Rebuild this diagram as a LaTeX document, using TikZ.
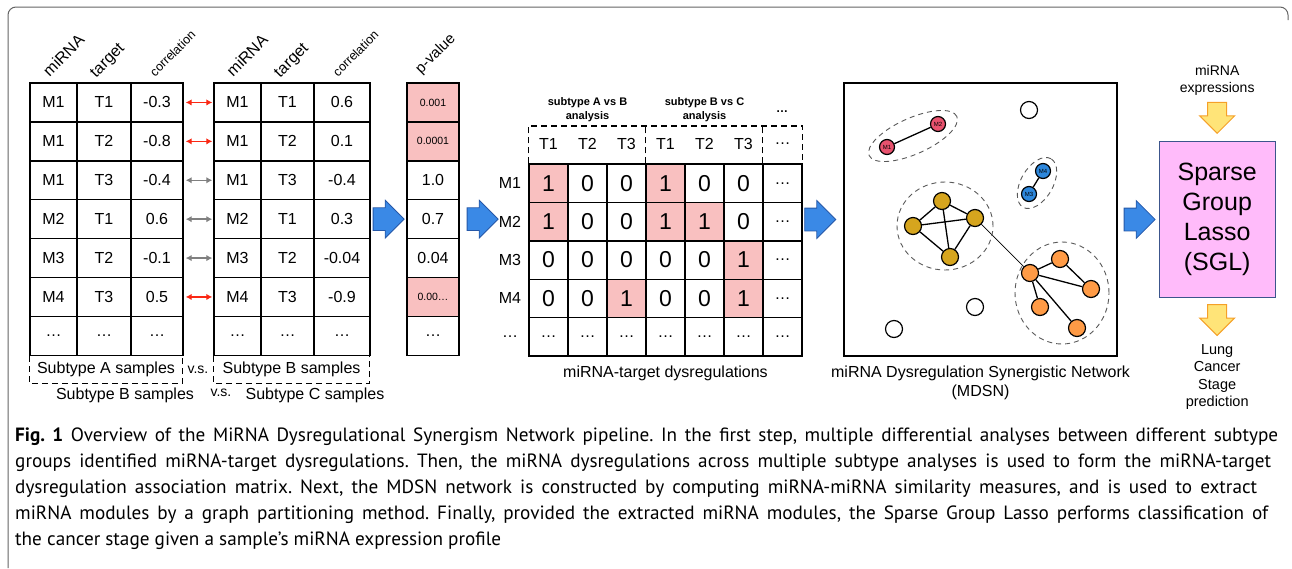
\documentclass[tikz,border=0pt]{standalone}
\usepackage{fontspec}
\setmainfont{Liberation Sans}
\newfontfamily\capfont{PT Sans}
\usepackage{tikz}
\usetikzlibrary{positioning,shapes,arrows,arrows.meta,calc}
\frenchspacing

\definecolor{pinkcell}{RGB}{249,192,192}
\definecolor{blockblue}{RGB}{58,137,230}
\definecolor{blockedge}{RGB}{38,88,168}
\definecolor{sglfill}{RGB}{255,187,250}
\definecolor{sgledge}{RGB}{60,85,140}
\definecolor{yelfill}{RGB}{255,228,120}
\definecolor{yeledge}{RGB}{245,160,40}
\definecolor{nodered}{RGB}{232,82,110}
\definecolor{nodeblue}{RGB}{45,135,220}
\definecolor{nodegold}{RGB}{214,165,30}
\definecolor{nodeorange}{RGB}{255,155,70}
\definecolor{arrred}{RGB}{250,40,20}
\definecolor{framegray}{RGB}{100,100,100}

\newcommand{\capline}[2]{\makebox[#1][s]{#2}}

\tikzstyle{cell} = [rectangle, draw, line width=1.4pt, minimum height=38.9pt, %
   inner sep=0pt, font=\fontsize{16}{18}\selectfont]
\tikzstyle{mcell} = [rectangle, draw, line width=1.4pt, minimum width=39pt, %
   minimum height=38.4pt, inner sep=0pt, font=\fontsize{23}{25}\selectfont]
\tikzstyle{v1} = [fill=pinkcell]
\tikzstyle{v0} = []
\tikzstyle{psmall} = [fill=pinkcell, font=\fontsize{10.5}{12}\selectfont]
\tikzstyle{hdr} = [rotate=45, anchor=base west, inner sep=0pt, font=\fontsize{16}{18}\selectfont]
\tikzstyle{lbl} = [font=\fontsize{16}{19}\selectfont, align=center, inner sep=0pt]
\tikzstyle{dashbox} = [draw, dash pattern=on 6pt off 4pt, line width=1.2pt]
\tikzstyle{pair} = [draw, line width=1.5pt, {Latex[length=6pt,width=6.5pt]}-{Latex[length=6pt,width=6.5pt]}, %
   shorten <=2pt, shorten >=1pt]
\tikzstyle{bluearr} = [single arrow, draw=blockedge, fill=blockblue, line width=0.8pt, %
   minimum height=31pt, inner xsep=0pt, inner ysep=11pt, single arrow head extend=7.5pt]
\tikzstyle{yelarr} = [single arrow, shape border rotate=270, draw=yeledge, fill=yelfill, %
   line width=1pt, minimum height=31pt, inner ysep=0pt, inner xsep=9pt, single arrow head extend=8pt]
\tikzstyle{mirna} = [circle, draw, line width=1.2pt, inner sep=0pt, minimum size=15pt, %
   font=\fontsize{6}{6}\selectfont]
\tikzstyle{gene} = [circle, draw, line width=1.2pt, inner sep=0pt, minimum size=17pt]
\tikzstyle{edge} = [draw, line width=1.3pt]
\tikzstyle{module} = [ellipse, draw=black!65, dash pattern=on 5pt off 4pt, line width=0.9pt, inner sep=0pt]

\begin{document}
\begin{tikzpicture}[x=1pt, y=-1pt]
   \useasboundingbox (0,0) rectangle (1292,568);
   \draw[framegray, line width=1pt, rounded corners=8pt] (8,568) -- (8,7) -- (1288,7) -- (1288,20);

   % Subtype tables %%%%%%%%%%%%%%%%%%%%%%%%%%%%%%%%%%%%%%%%%%%%%%%%%%%%%%
   \foreach \m/\t/\va/\vb [count=\r] in {M1/T1/-0.3/0.6, M1/T2/-0.8/0.1, M1/T3/-0.4/-0.4, %
         M2/T1/0.6/0.3, M3/T2/-0.1/-0.04, M4/T3/0.5/-0.9, \ldots/\ldots/\ldots/\ldots}{
      \node[cell, minimum width=47pt] (A-\r-1) at (53.5,{83+38.9*(\r-0.5)}) {\m};
      \node[cell, minimum width=54pt] (A-\r-2) at (104,{83+38.9*(\r-0.5)}) {\t};
      \node[cell, minimum width=52pt] (A-\r-3) at (157,{83+38.9*(\r-0.5)}) {\va};
      \node[cell, minimum width=47pt] (B-\r-1) at (237.5,{83+38.9*(\r-0.5)}) {\m};
      \node[cell, minimum width=53pt] (B-\r-2) at (287.5,{83+38.9*(\r-0.5)}) {\t};
      \node[cell, minimum width=56pt] (B-\r-3) at (342,{83+38.9*(\r-0.5)}) {\vb};
   }

   \node[hdr] (hA1) at ([xshift=-4pt,yshift=5pt]A-1-1.north) {miRNA};
   \node[hdr] (hA2) at ([xshift=-8pt,yshift=4pt]A-1-2.north) {target};
   \node[hdr, font=\fontsize{12.5}{14}\selectfont] (hA3) at ([xshift=-2pt,yshift=5pt]A-1-3.north) {correlation};
   \node[hdr] (hB1) at ([xshift=-4.5pt,yshift=5pt]B-1-1.north) {miRNA};
   \node[hdr] (hB2) at ([xshift=-7.5pt,yshift=4pt]B-1-2.north) {target};
   \node[hdr, font=\fontsize{12.5}{14}\selectfont] (hB3) at ([xshift=-4pt,yshift=5pt]B-1-3.north) {correlation};

   % pairs compared across subtypes
   \foreach \r/\col in {1/arrred, 2/arrred, 3/gray, 4/gray, 5/gray, 6/arrred}
      \path[pair, \col] (A-\r-3) -- (B-\r-1);

   \node[anchor=north west, minimum width=153pt, minimum height=27pt, inner sep=0pt, %
      font=\fontsize{16}{18}\selectfont] (subA) at (A-7-1.south west) {Subtype A samples};
   \node[anchor=north west, minimum width=156pt, minimum height=27pt, inner sep=0pt, %
      font=\fontsize{16}{18}\selectfont] (subB) at (B-7-1.south west) {Subtype B samples};
   \path[dashbox] (subA.north west) -- (subA.south west) -- (subA.south east) -- (subA.north east);
   \path[dashbox] (subB.north west) -- (subB.south west) -- (subB.south east) -- (subB.north east);
   \node[lbl, font=\fontsize{14}{16}\selectfont] (vs1) at ($(subA.east)!0.5!(subB.west)$) {v.s.};

   \node[lbl] (subB2) at (125,395) {Subtype B samples};
   \node[lbl, font=\fontsize{14}{16}\selectfont] (vs2) at (221,393) {v.s.};
   \node[lbl] (subC) at (315,395) {Subtype C samples};

   % p-value column %%%%%%%%%%%%%%%%%%%%%%%%%%%%%%%%%%%%%%%%%%%%%%%%%%%%%%
   \node[bluearr, right=2pt of B-4-3] (arr1) {};
   \foreach \p/\s [count=\r] in {0.001/psmall, 0.0001/psmall, 1.0/v0, 0.7/v0, 0.04/v0, %
         0.00\ldots/psmall, \ldots/v0}
      \node[cell, minimum width=52pt, \s] (P-\r) at (433,{83+38.9*(\r-0.5)}) {\p};
   \node[hdr, font=\fontsize{15}{17}\selectfont] (hP) at ([xshift=-12pt,yshift=8pt]P-1.north) {p-value};
   \node[bluearr, right=7pt of P-4] (arr2) {};

   % Dysregulation matrix %%%%%%%%%%%%%%%%%%%%%%%%%%%%%%%%%%%%%%%%%%%%%%%%%
   \foreach \row [count=\r] in {{1,0,0,1,0,0}, {1,0,0,1,1,0}, {0,0,0,0,0,1}, {0,0,1,0,0,1}}{
      \foreach \v [count=\k] in \row
         \node[mcell, v\v] (M-\r-\k) at ({529+39*(\k-0.5)},{164+38.4*(\r-0.5)}) {\v};
      \node[mcell, font=\fontsize{16}{18}\selectfont] (M-\r-7) at (782.5,{164+38.4*(\r-0.5)}) {\ldots};
      \node[font=\fontsize{16}{18}\selectfont] (rl-\r) at (510,{164+38.4*(\r-0.5)}) {M\r};
   }
   \foreach \k in {1,...,7}
      \node[mcell, font=\fontsize{16}{18}\selectfont] (M-5-\k) at ({529+39*(\k-0.5)},{164+38.4*4.5}) {\ldots};
   \node[font=\fontsize{16}{18}\selectfont] (rl-5) at (510,{164+38.4*4.5}) {\ldots};

   \foreach \h [count=\k] in {T1,T2,T3,T1,T2,T3,\ldots}
      \node[font=\fontsize{16}{18}\selectfont] (hd-\k) at ({529+39*(\k-0.5)},144) {\h};
   \coordinate (hdtop) at (665,126);
   \path[dashbox] (M-1-1.north west) |- (hdtop) -| (M-1-7.north east);
   \path[dashbox] (M-1-4.north west) -- (M-1-4.north west |- hdtop);
   \path[dashbox] (M-1-7.north west) -- (M-1-7.north west |- hdtop);

   \node[align=center, font=\bfseries\fontsize{11}{14}\selectfont] (anAB) at (587.5,110) {subtype A vs B\\analysis};
   \node[align=center, font=\bfseries\fontsize{11}{14}\selectfont] (anBC) at (704.5,110) {subtype B vs C\\analysis};
   \node[font=\bfseries\fontsize{12}{14}\selectfont] (anmore) at (782,112) {\ldots};

   \node[lbl, below=9pt of M-5-4] (mlbl) {miRNA-target dysregulations};

   % MDSN network %%%%%%%%%%%%%%%%%%%%%%%%%%%%%%%%%%%%%%%%%%%%%%%%%%%%%%%%%
   \node[draw, line width=1.4pt, minimum width=273pt, minimum height=273pt, inner sep=0pt] (net) at (980.5,219.5) {};
   \node[bluearr, left=7pt of net] (arr3) {};

   \node[mirna, fill=nodered] (m1) at (887,147) {M1};
   \node[mirna, fill=nodered] (m2) at (938,124) {M2};
   \node[mirna, fill=nodeblue] (m3) at (1029,194) {M3};
   \node[mirna, fill=nodeblue] (m4) at (1043,171) {M4};
   \node[gene, fill=white] (w1) at (1029,110) {};
   \node[gene, fill=white] (w2) at (975,307) {};
   \node[gene, fill=white] (w3) at (894,329) {};
   \node[gene, fill=nodegold] (g1) at (942,201) {};
   \node[gene, fill=nodegold] (g2) at (913,226) {};
   \node[gene, fill=nodegold] (g3) at (975,218) {};
   \node[gene, fill=nodegold] (g4) at (950,257) {};
   \node[gene, fill=nodeorange] (o1) at (1030,273) {};
   \node[gene, fill=nodeorange] (o2) at (1060,259) {};
   \node[gene, fill=nodeorange] (o3) at (1091,289) {};
   \node[gene, fill=nodeorange] (o4) at (1040,307) {};
   \node[gene, fill=nodeorange] (o5) at (1077,328) {};

   \path[edge] (m1) -- (m2);
   \path[edge] (m3) -- (m4);
   \foreach \i/\j in {g1/g2, g1/g3, g1/g4, g2/g3, g2/g4, g3/g4, o1/o2, o1/o3, o2/o3, o1/o4, o1/o5}
      \path[edge] (\i) -- (\j);
   \draw[line width=0.7pt] (g3) -- (o1);

   \node[module, minimum width=96pt, minimum height=36pt, rotate=24] (modred) at (913,136) {};
   \node[module, minimum width=56pt, minimum height=32pt, rotate=60] (modblue) at (1037,183) {};
   \node[module, minimum width=96pt, minimum height=88pt] (modgold) at (945,226) {};
   \node[module, minimum width=94pt, minimum height=102pt] (modorange) at (1062,293) {};

   \node[lbl, below=9pt of net] (netlbl) {miRNA Dysregulation Synergistic Network\\(MDSN)};

   % SGL classifier %%%%%%%%%%%%%%%%%%%%%%%%%%%%%%%%%%%%%%%%%%%%%%%%%%%%%%%
   \node[bluearr, right=6pt of net] (arr4) {};
   \node[draw=sgledge, fill=sglfill, line width=1pt, minimum width=116pt, minimum height=156pt, %
      align=center, font=\fontsize{25}{30}\selectfont, right=3pt of arr4] (sgl) {Sparse\\Group\\Lasso\\(SGL)};
   \node[yelarr, above=7pt of sgl] (yin) {};
   \node[lbl, font=\fontsize{14}{17}\selectfont, above=6pt of yin] (expr) {miRNA\\expressions};
   \node[yelarr, below=6pt of sgl] (yout) {};
   \node[lbl, font=\fontsize{14.5}{17.5}\selectfont, below=8pt of yout] (pred) {Lung\\Cancer\\Stage\\prediction};

   % Caption %%%%%%%%%%%%%%%%%%%%%%%%%%%%%%%%%%%%%%%%%%%%%%%%%%%%%%%%%%%%%%
   \node[anchor=north west, align=left, inner sep=0pt, font=\capfont\fontsize{19.2}{26}\selectfont] (cap) at (15,428) {%
      \capline{1263pt}{\textbf{Fig. 1} Overview of the MiRNA Dysregulational Synergism Network pipeline. In the first step, multiple differential analyses between different subtype}\\
      \capline{1256pt}{groups identified miRNA-target dysregulations. Then, the miRNA dysregulations across multiple subtype analyses is used to form the miRNA-target}\\
      \capline{1242pt}{dysregulation association matrix. Next, the MDSN network is constructed by computing miRNA-miRNA similarity measures, and is used to extract}\\
      \capline{1253pt}{miRNA modules by a graph partitioning method. Finally, provided the extracted miRNA modules, the Sparse Group Lasso performs classification of}\\
      the cancer stage given a sample’s miRNA expression profile};
\end{tikzpicture}
\end{document}
